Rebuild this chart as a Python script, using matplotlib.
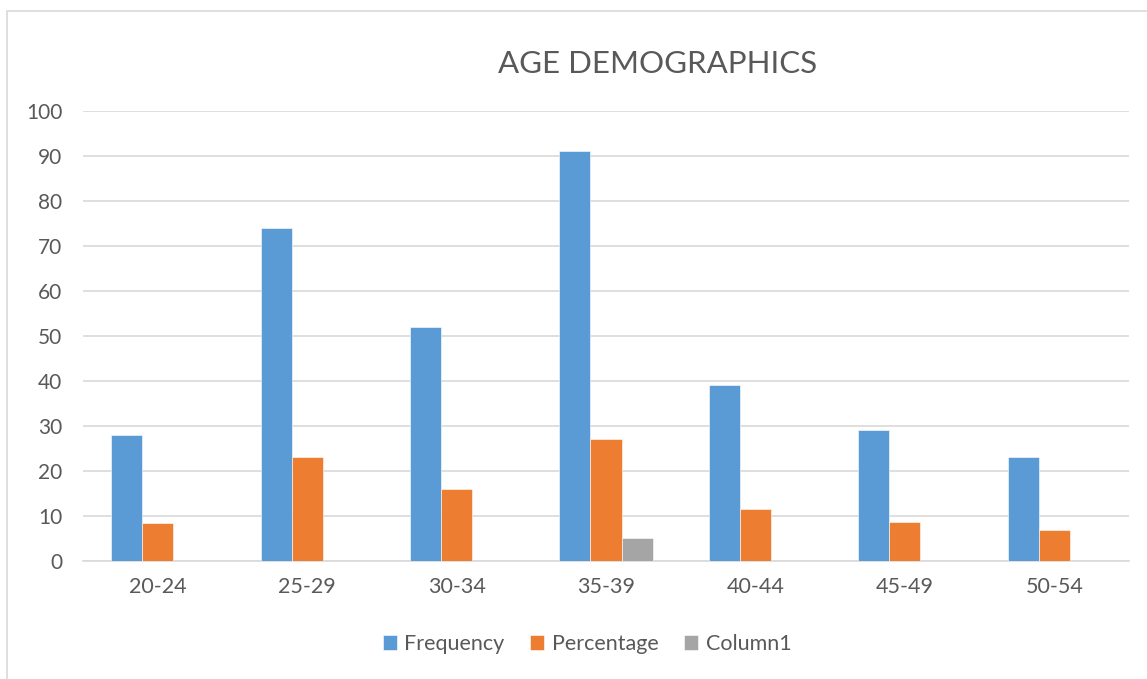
import numpy as np
import matplotlib.pyplot as plt
from matplotlib.patches import Rectangle

# data
age_groups = ['20-24', '25-29', '30-34', '35-39', '40-44', '45-49', '50-54']
frequency = [28, 74, 52, 91, 39, 29, 23]
percentage = [8.4, 23, 16, 27, 11.6, 8.7, 6.9]
column1 = [0, 0, 0, 5, 0, 0, 0]

plt.rcParams['font.family'] = ['Lato', 'DejaVu Sans']

W, H = 1147, 679
fig = plt.figure(figsize=(W / 100, H / 100), dpi=100)
ax = fig.add_axes([83 / W, 1 - 560.7 / H, (1129 - 83) / W, (560.7 - 110.7) / H])

# chart frame (left and top border visible)
fig.patches.append(Rectangle((7 / W, -0.1), 1.2, 1 - 11 / H + 0.1, transform=fig.transFigure,
                             fill=False, edgecolor='#d9d9d9', linewidth=1.2, clip_on=False))

x = np.arange(len(age_groups))
w = 31 / 149.4
series = [('Frequency', frequency, '#5B9BD5'),
          ('Percentage', percentage, '#ED7D31'),
          ('Column1', column1, '#A5A5A5')]
for i, (name, vals, col) in enumerate(series):
    ax.bar(x + (i - 1) * w, vals, w, color=col, label=name, edgecolor='white', linewidth=0.4, zorder=3)

ax.set_xlim(-0.5, len(age_groups) - 0.5)
ax.set_ylim(0, 100)
ax.set_yticks(range(0, 101, 10))
ax.set_xticks(x)
ax.set_xticklabels(age_groups)
ax.grid(axis='y', color='#d9d9d9', linewidth=1.2, zorder=0)
for s in ['top', 'right', 'left']:
    ax.spines[s].set_visible(False)
ax.spines['bottom'].set_color('#d9d9d9')
ax.spines['bottom'].set_linewidth(1.2)
ax.tick_params(axis='both', length=0, colors='#595959')
ax.tick_params(axis='y', pad=15, labelsize=15)
ax.tick_params(axis='x', pad=12, labelsize=15.5)

fig.text(658 / W, 1 - 64 / H, 'AGE DEMOGRAPHICS', ha='center', va='center',
         fontsize=22.5, color='#595959')

fig.legend(loc='center', bbox_to_anchor=(587 / W, 1 - 644 / H), ncol=3, frameon=False,
           fontsize=15.5, labelcolor='#595959', handlelength=0.65, handleheight=0.65,
           handletextpad=0.35, columnspacing=1.2)

fig.savefig('out.png', dpi=100)
